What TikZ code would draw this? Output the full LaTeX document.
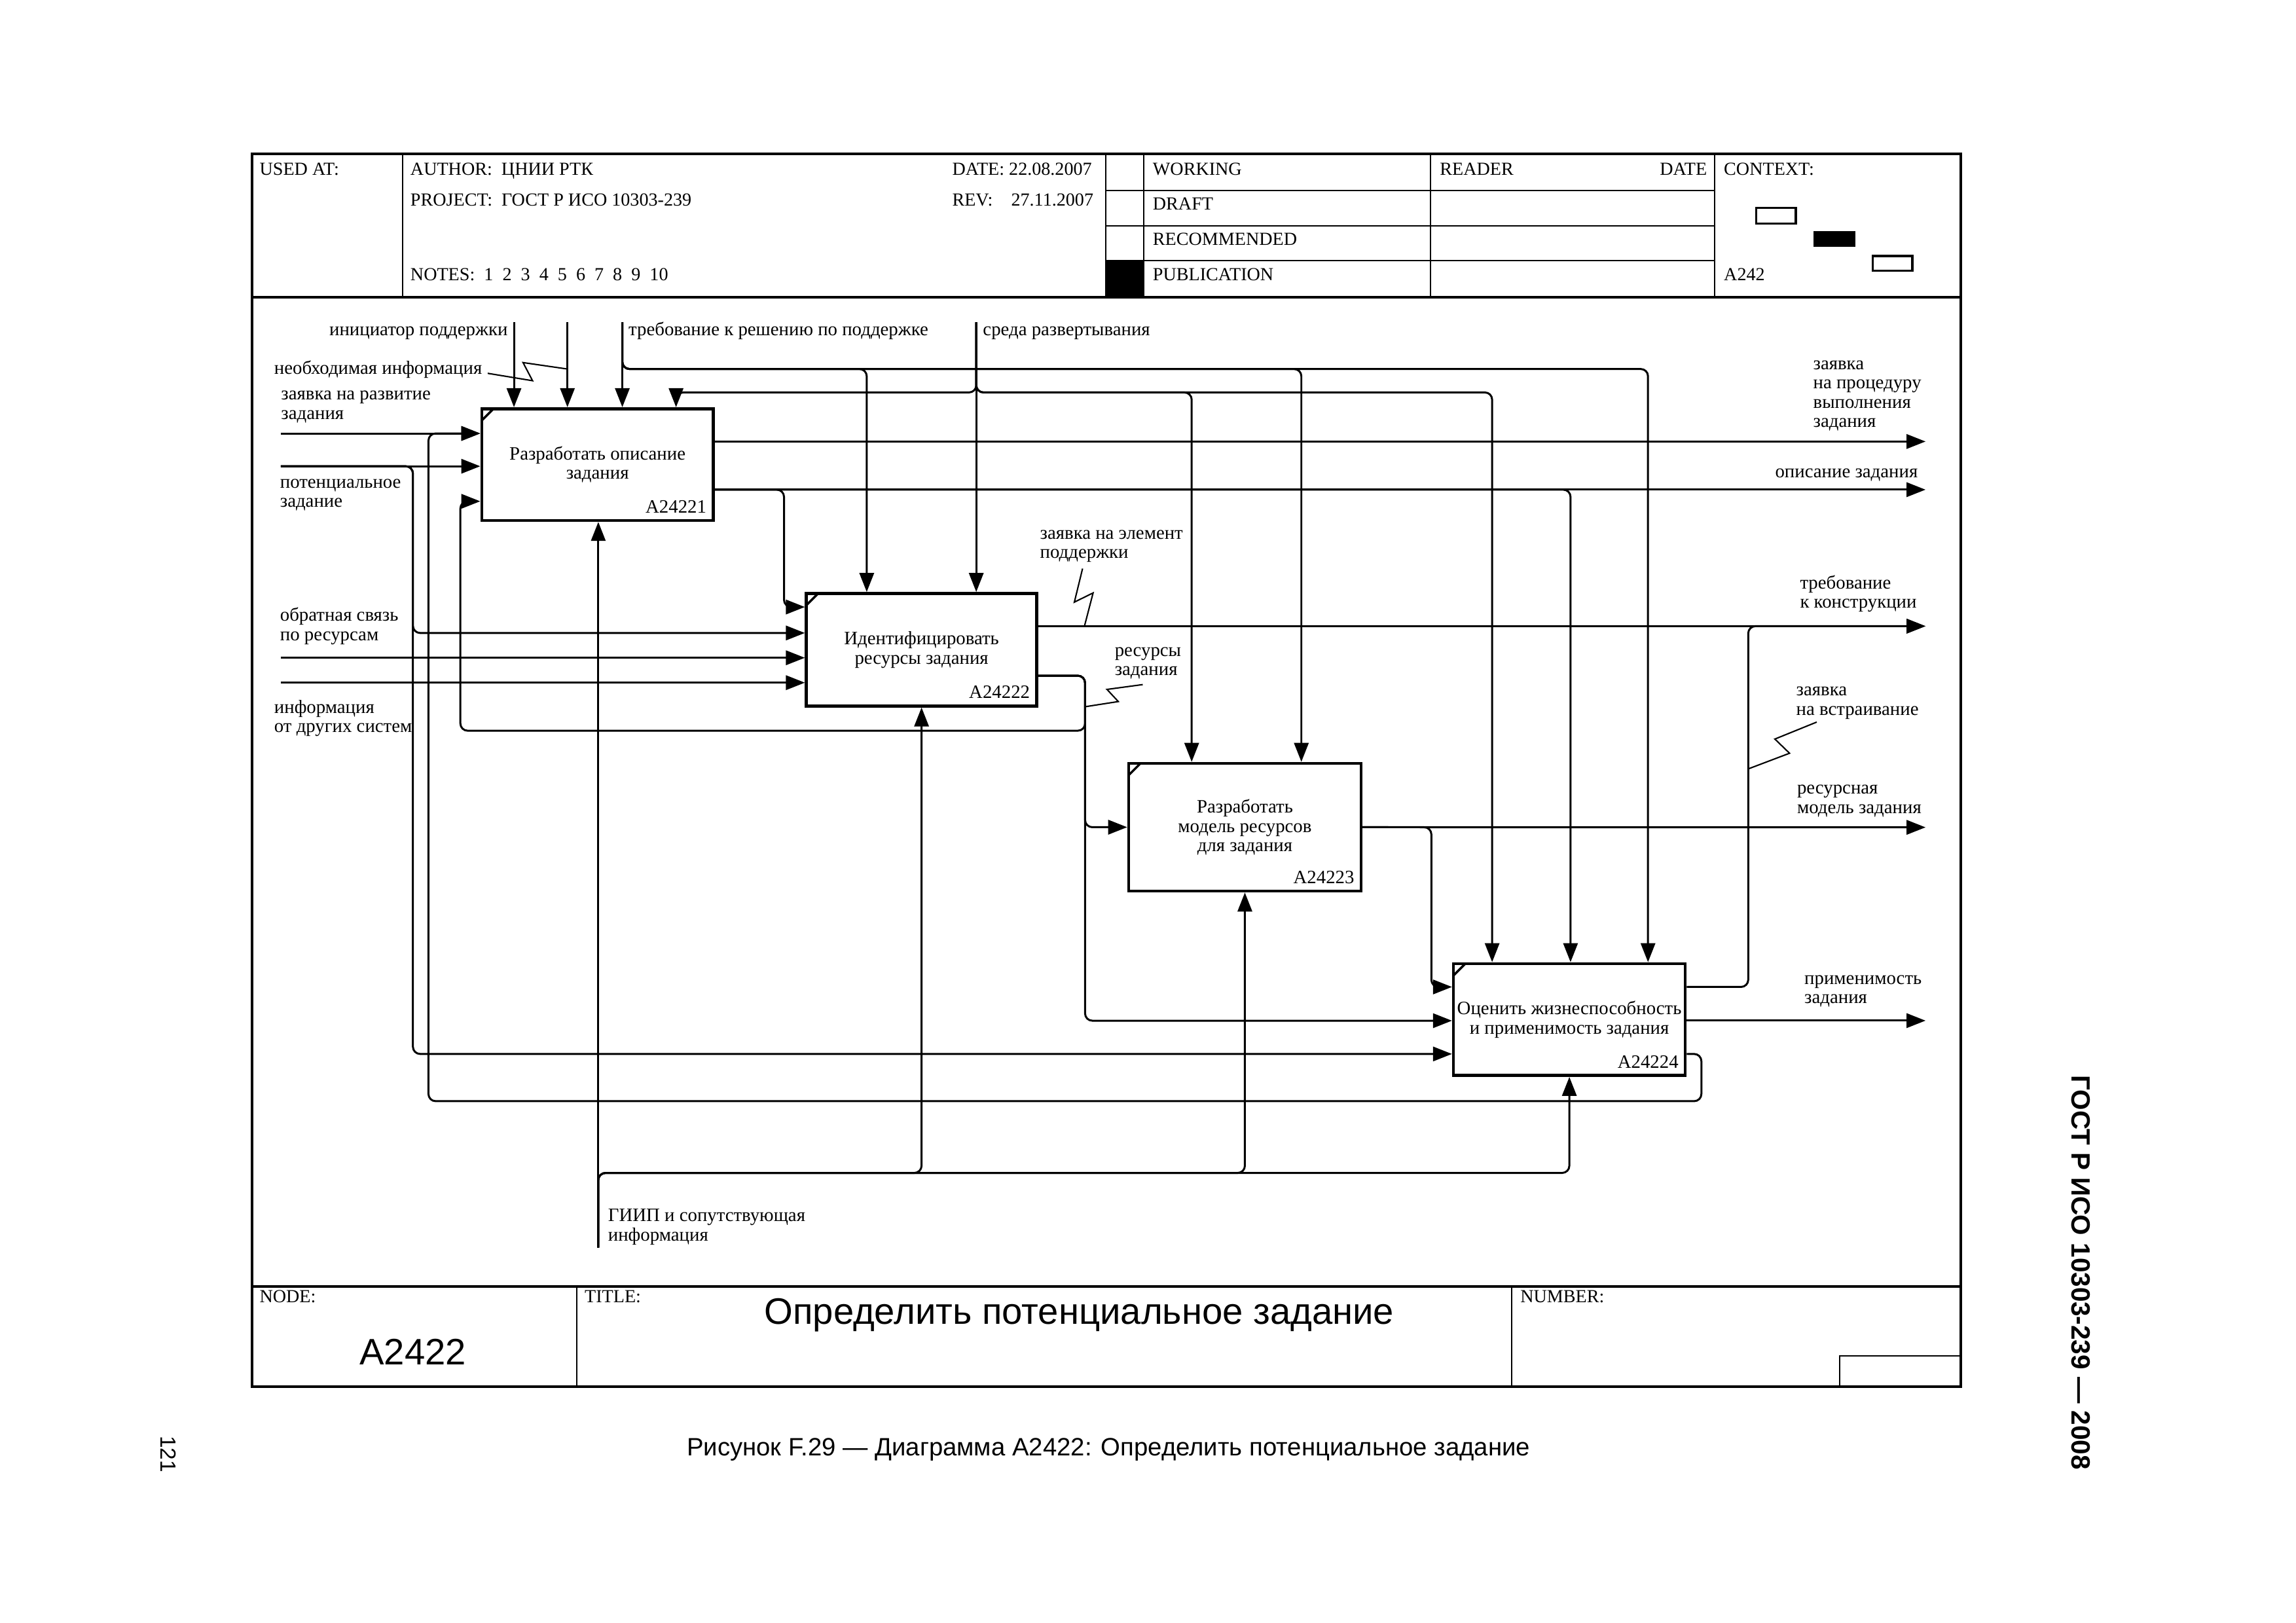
\documentclass[tikz,border=0pt]{standalone}
\usepackage{fontspec}
\setmainfont{Liberation Serif}
\newfontfamily\sansfont{Liberation Sans}
\usetikzlibrary{arrows.meta,calc}

\begin{document}
\begin{tikzpicture}[x=0.22366mm,y=-0.22366mm,
  >={Triangle[length=2.9mm,width=2.2mm]},
  every node/.style={inner sep=0pt,font=\fontsize{8.2}{8.4}\selectfont},
  lbl/.style={align=left,anchor=base west},
  hdr/.style={font=\fontsize{8}{8.5}\selectfont,anchor=base west},
  grid/.style={line width=0.6pt},
  conn/.style={line width=0.85pt,rounded corners=1.1mm},
  zz/.style={line width=0.6pt},
  act/.style 2 args={draw,line width=1.3pt,minimum width=#1,minimum height=#2,align=center,
    path picture={\draw[line width=1pt] ([yshift=-1.8mm]path picture bounding box.north west)
      -- ([xshift=1.8mm]path picture bounding box.north west);}},
  num/.style={anchor=south east,xshift=-1.2mm,yshift=1.3mm}
]
\useasboundingbox (0,0) rectangle (1568,1108);

% frame
\draw[line width=1.2pt] (172,105) rectangle (1339,947);
\draw[line width=1.1pt] (172,203) -- (1339,203);
\draw[line width=1.1pt] (172,878.5) -- (1339,878.5);
\foreach \x in {275,755,781,977,1171}
  \draw[grid] (\x,105) -- (\x,203);
\foreach \y in {130,154.2,178}
  \draw[grid] (755,\y) -- (1171,\y);
\fill (755,178) rectangle (781,203);
\draw[line width=0.9pt] (1199.4,141.9) rectangle (1226.4,152.5);
\fill (1238.3,158) rectangle (1267.2,168.6);
\draw[line width=0.9pt] (1279,174.8) rectangle (1306,185);
\draw[grid] (394,878.5) -- (394,947);
\draw[grid] (1032.4,878.5) -- (1032.4,947);
\draw[grid] (1256.5,947) |- (1339,925.8);

% header
\node[hdr] (usedat) at (177,119.5) {USED AT:};
\node[hdr] (author) at (280,119.5) {AUTHOR:\ \ ЦНИИ РТК};
\node[hdr] (date) at (650,119.5) {DATE:\ 22.08.2007};
\node[hdr] (project) at (280,140.5) {PROJECT:\ \ ГОСТ Р ИСО 10303-239};
\node[hdr] (rev) at (650,140.5) {REV:\ \ \ \ 27.11.2007};
\node[hdr] (notes) at (280,191.5) {NOTES:\ \ 1\ \ 2\ \ 3\ \ 4\ \ 5\ \ 6\ \ 7\ \ 8\ \ 9\ \ 10};
\node[hdr] (working) at (787,119.5) {WORKING};
\node[hdr] (draft) at (787,143.5) {DRAFT};
\node[hdr] (recom) at (787,167.5) {RECOMMENDED};
\node[hdr] (publ) at (787,191.5) {PUBLICATION};
\node[hdr] (reader) at (983,119.5) {READER};
\node[hdr,anchor=base east] (rdate) at (1166,119.5) {DATE};
\node[hdr] (context) at (1177,119.5) {CONTEXT:};
\node[hdr] (ctxnode) at (1177,191.5) {A242};

% footer
\node[hdr] (nodelbl) at (177,889.5) {NODE:};
\node[hdr] (titlelbl) at (399,889.5) {TITLE:};
\node[hdr] (numlbl) at (1038,889.5) {NUMBER:};
\node[font=\sansfont\fontsize{16}{18}\selectfont] (nodeno) at (282,923) {A2422};
\node[font=\sansfont\fontsize{16}{18}\selectfont] (title) at (737,898) {Определить потенциальное задание};
\node[font=\sansfont\fontsize{10.9}{12}\selectfont] (caption) at (757,990)
  {Рисунок F.29 — Диаграмма A2422: Определить потенциальное задание};
\node[font=\sansfont\bfseries\fontsize{11.5}{13}\selectfont,rotate=-90] (side) at (1421,869)
  {ГОСТ Р ИСО 10303-239 — 2008};
\node[font=\sansfont\fontsize{9.5}{11}\selectfont,rotate=-90] (page) at (115,993) {121};

% activities
\node[act={35.36mm}{17.07mm},label={[num]south east:A24221}] (a1) at (408.05,317.25)
  {Разработать описание\\задания};
\node[act={35.18mm}{17.18mm},label={[num]south east:A24222}] (a2) at (629.35,443.7)
  {Идентифицировать\\ресурсы задания};
\node[act={35.49mm}{19.5mm},label={[num]south east:A24223}] (a3) at (850.15,564.9)
  {Разработать\\модель ресурсов\\для задания};
\node[act={35.4mm}{17.07mm},label={[num]south east:A24224}] (a4) at (1071.75,696.25)
  {Оценить жизнеспособность\\и применимость задания};

% ports
\coordinate (a1n4) at ($(a1.north west)!.835!(a1.north east)$);
\coordinate (a2n1) at ($(a2.north west)!.265!(a2.north east)$);
\coordinate (a3n1) at ($(a3.north west)!.274!(a3.north east)$);
\coordinate (a3n2) at ($(a3.north west)!.74!(a3.north east)$);
\coordinate (a4n1) at ($(a4.north west)!.171!(a4.north east)$);
\coordinate (a4n2) at ($(a4.north west)!.505!(a4.north east)$);
\coordinate (a4n3) at ($(a4.north west)!.835!(a4.north east)$);
\coordinate (a1w3) at ($(a1.north west)!.82!(a1.south west)$);
\coordinate (a2w1) at ($(a2.north west)!.13!(a2.south west)$);
\coordinate (a2w2) at ($(a2.north west)!.355!(a2.south west)$);
\coordinate (a2e2) at ($(a2.north east)!.725!(a2.south east)$);
\coordinate (a4w1) at ($(a4.north west)!.216!(a4.south west)$);
\coordinate (a4w2) at ($(a4.north west)!.51!(a4.south west)$);
\coordinate (a4w3) at ($(a4.north west)!.80!(a4.south west)$);
\coordinate (a4e1) at ($(a4.north east)!.216!(a4.south east)$);
\coordinate (a4e3) at ($(a4.north east)!.80!(a4.south east)$);

% boundary ends
\coordinate (c1) at (351,220);
\coordinate (c2) at (387.5,220);
\coordinate (c3) at (425,220);
\coordinate (c4) at (666.7,220);
\coordinate (i1) at (191.7,296);
\coordinate (i2) at (191.7,318.4);
\coordinate (i3) at (191.7,449.2);
\coordinate (i4) at (191.7,466.2);
\coordinate (m1) at (408.6,852);
\coordinate (o1) at (1315,301.5);
\coordinate (o2) at (1315,334.4);
\coordinate (o3) at (1315,427.6);
\coordinate (o4) at (1315,565);
\coordinate (o5) at (1315,697);

% controls
\draw[conn,->] (c1) -- (c1 |- a1.north);
\draw[conn,->] (c2) -- (c2 |- a1.north);
\draw[conn,->] (c3) -- (c3 |- a1.north);
\draw[conn,->] (c3) -- ++(0,32) -| (a2n1);
\draw[conn,->] (c3) -- ++(0,32) -| (a3n2);
\draw[conn,->] (c3) -- ++(0,32) -| (a4n3);
\draw[conn,->] (c4) -- (c4 |- a2.north);
\draw[conn,->] (c4) -- ++(0,48) -| (a1n4);
\draw[conn,->] (c4) -- ++(0,48) -| (a3n1);
\draw[conn,->] (c4) -- ++(0,48) -| (a4n1);

% inputs
\draw[conn,->] (i1) -- (i1 -| a1.west);
\draw[conn,->] (i2) -- (i2 -| a1.west);
\draw[conn,->] (i2) -- ++(90.3,0) |- (a2w2);
\draw[conn,->] (i2) -- ++(90.3,0) |- (a4w3);
\draw[conn,->] (i3) -- (i3 -| a2.west);
\draw[conn,->] (i4) -- (i4 -| a2.west);

% outputs of A24221
\draw[conn,->] (a1.east |- o1) -- (o1);
\draw[conn,->] (a1.east |- o2) -- (o2);
\draw[conn,->] (a1.east |- o2) -- ++(47.3,0) |- (a2w1);
\draw[conn,->] (a1.east |- o2) -| (a4n2);

% outputs of A24222
\draw[conn,->] (a2.east |- o3) -- (o3);
\draw[conn,->] (a2e2) -- ++(32,0) |- (314.4,499) |- (a1w3);
\draw[conn,->] (a2e2) -- ++(32,0) |- (a3.west);
\draw[conn,->] (a2e2) -- ++(32,0) |- (a4w2);

% outputs of A24223
\draw[conn,->] (a3.east) -- (o4);
\draw[conn,->] (a3.east) -- ++(47,0) |- (a4w1);

% outputs of A24224
\draw[conn,->] (o5 -| a4.east) -- (o5);
\draw[conn,->] (a4e1) -- ++(42,0) |- (o3);
\draw[conn,->] (a4e3) -- ++(10,0) |- (292.6,752) |- (i1 -| a1.west);

% mechanisms
\draw[conn,->] (m1) -- (m1 |- a1.south);
\draw[conn,->] (m1) -- ++(0,-51) -| (a2.south);
\draw[conn,->] (m1) -- ++(0,-51) -| (a3.south);
\draw[conn,->] (m1) -- ++(0,-51) -| (a4.south);

% labels (base = last line)
\node[lbl,anchor=base east] (l1) at (347,229) {инициатор поддержки};
\node[lbl] (l2) at (187,255.5) {необходимая информация};
\node[lbl] (l3) at (429,229) {требование к решению по поддержке};
\node[lbl] (l4) at (671,229) {среда развертывания};
\node[lbl] (l5) at (191.7,286.3) {заявка на развитие\\задания};
\node[lbl] (l6) at (191,346.3) {потенциальное\\задание};
\node[lbl] (l7) at (191,437.3) {обратная связь\\по ресурсам};
\node[lbl] (l8) at (187,500.3) {информация\\от других систем};
\node[lbl] (l9) at (1238,291.9) {заявка\\на процедуру\\выполнения\\задания};
\node[lbl,anchor=base east] (l10) at (1310,326) {описание задания};
\node[lbl] (l11) at (1229,415.3) {требование\\к конструкции};
\node[lbl] (l12) at (1226.4,488.3) {заявка\\на встраивание};
\node[lbl] (l13) at (1227,555.3) {ресурсная\\модель задания};
\node[lbl] (l14) at (1232,685.3) {применимость\\задания};
\node[lbl] (l15) at (710,381.3) {заявка на элемент\\поддержки};
\node[lbl] (l16) at (761,461.3) {ресурсы\\задания};
\node[lbl] (l17) at (415,847.3) {ГИИП и сопутствующая\\информация};

% squiggles
\draw[zz] ([xshift=0.8mm,yshift=-0.6mm]l2.east) -- (363.7,260) -- (357.2,247.6) -- (c2 |- 0,252);
\draw[zz] (739.3,388.3) -- (733.7,411.2) -- (746.5,404.9) -- (740.6,427.6);
\draw[zz] (780.4,467.5) -- (756,470.8) -- (763.7,479.1) -- (740.6,482.7);
\draw[zz] (1240.7,493.1) -- (1212.1,504.7) -- (1222.1,514.4) -- (1193.6,525.2);
\end{tikzpicture}
\end{document}
